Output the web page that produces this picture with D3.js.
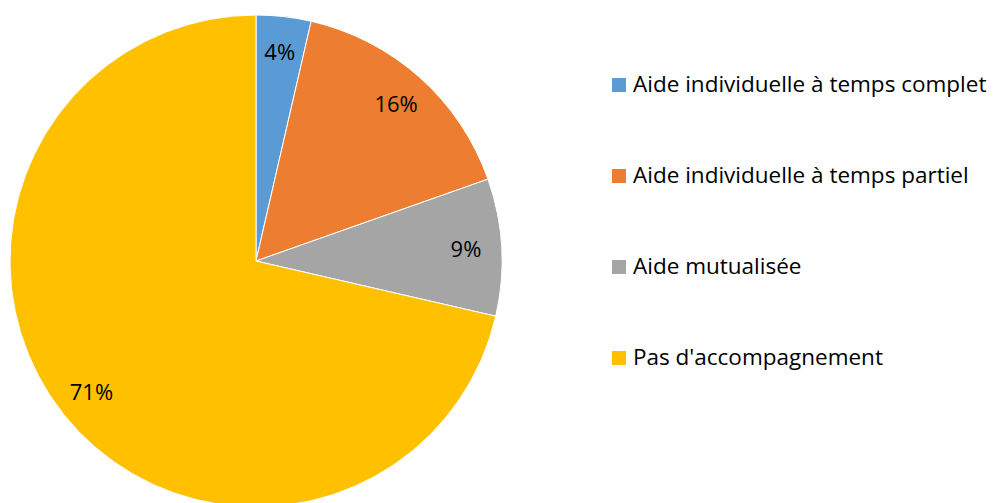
<!DOCTYPE html>
<html>
<head>
<meta charset="utf-8">
<script src="https://cdn.jsdelivr.net/npm/d3@7"></script>
<style>
  body { margin: 0; background: #fff; }
  text { font-family: "Open Sans", "Noto Sans", sans-serif; fill: #000; }
</style>
</head>
<body>
<script>
var categories = ["Aide individuelle à temps complet", "Aide individuelle à temps partiel", "Aide mutualisée", "Pas d'accompagnement"];
var values = [3.6, 16.0, 9.0, 71.4];
var labels = ["4%", "16%", "9%", "71%"];
var colors = ["#5B9BD5", "#ED7D31", "#A5A5A5", "#FFC000"];

var width = 1005, height = 503;
var cx = 256, cy = 261, radius = 246;

var svg = d3.select('body').append('svg').attr('width', width).attr('height', height);

var pie = d3.pie().sort(null).value(function (d) { return d; });
var arc = d3.arc().innerRadius(0).outerRadius(radius);
var labelArc = d3.arc().innerRadius(radius * 0.855).outerRadius(radius * 0.855);

var g = svg.append('g').attr('transform', 'translate(' + cx + ',' + cy + ')');
var arcs = pie(values);

g.selectAll('path')
  .data(arcs)
  .enter()
  .append('path')
  .attr('d', arc)
  .attr('fill', function (d, i) { return colors[i]; })
  .attr('stroke', '#fff')
  .attr('stroke-width', 1);

g.selectAll('text.lbl')
  .data(arcs)
  .enter()
  .append('text')
  .attr('class', 'lbl')
  .attr('transform', function (d) { return 'translate(' + labelArc.centroid(d) + ')'; })
  .attr('text-anchor', 'middle')
  .attr('dy', '0.36em')
  .style('font-size', '22px')
  .text(function (d, i) { return labels[i]; });

// legend
var legend = svg.append('g').attr('transform', 'translate(612,78)');
var row = legend.selectAll('g')
  .data(categories)
  .enter()
  .append('g')
  .attr('transform', function (d, i) { return 'translate(0,' + (i * 91) + ')'; });

row.append('rect')
  .attr('width', 14)
  .attr('height', 14)
  .attr('fill', function (d, i) { return colors[i]; });

row.append('text')
  .attr('x', 21)
  .attr('y', 14)
  .style('font-size', '22.5px')
  .text(function (d) { return d; });
</script>
</body>
</html>
